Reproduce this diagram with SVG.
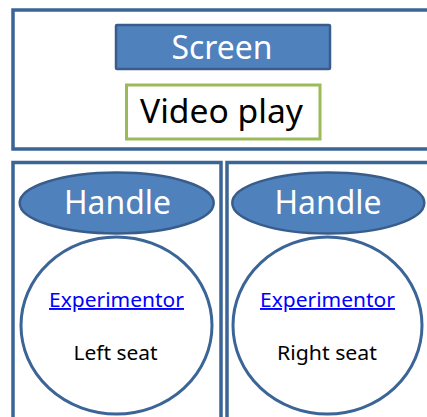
<svg xmlns="http://www.w3.org/2000/svg" width="427" height="417" viewBox="0 0 427 417">
<style>
.frame{fill:#fff;stroke:#3b6597;stroke-width:3.5}
.blue{fill:#4f81bd;stroke:#385d8a;stroke-width:2.5}
.seat{fill:#fff;stroke:#3b6597;stroke-width:3}
.big{font-family:"Noto Sans","Open Sans",sans-serif;font-size:32px;text-anchor:middle}
.small{font-family:"Noto Sans","Open Sans",sans-serif;font-size:19px;text-anchor:middle}
.w{fill:#fff}
.k{fill:#000}
.link{fill:#0000ff;text-decoration:underline}
</style>
<rect width="427" height="417" fill="#fff"/>
<g id="top-panel">
<rect class="frame" x="13" y="10" width="430" height="139"/>
</g>
<g id="screen">
<rect class="blue" x="116" y="25" width="214" height="44" rx="1"/>
<text class="big w" x="222" y="59" textLength="101" lengthAdjust="spacingAndGlyphs">Screen</text>
</g>
<g id="video-play">
<rect x="126.5" y="85" width="193.5" height="54" fill="#fff" stroke="#9bbb59" stroke-width="3"/>
<text class="big k" x="221.5" y="123" font-size="34" textLength="163" lengthAdjust="spacingAndGlyphs">Video play</text>
</g>
<g id="left-panel">
<rect class="frame" x="13" y="162.5" width="208" height="270"/>
</g>
<g id="right-panel">
<rect class="frame" x="227" y="162.5" width="220" height="270"/>
</g>
<g id="left-handle">
<ellipse class="blue" cx="116.7" cy="203" rx="97" ry="30.5"/>
<text class="big w" x="117.5" y="214" textLength="107" lengthAdjust="spacingAndGlyphs">Handle</text>
</g>
<g id="right-handle">
<ellipse class="blue" cx="328.3" cy="203" rx="96" ry="30.5"/>
<text class="big w" x="328" y="214" textLength="107" lengthAdjust="spacingAndGlyphs">Handle</text>
</g>
<g id="left-seat">
<ellipse class="seat" cx="116.5" cy="325.5" rx="95.5" ry="88.5"/>
<text class="small link" x="116.5" y="307" textLength="135" lengthAdjust="spacingAndGlyphs">Experimentor</text>
<text class="small k" x="115.5" y="360" font-size="20" textLength="84" lengthAdjust="spacingAndGlyphs">Left seat</text>
</g>
<g id="right-seat">
<ellipse class="seat" cx="327.5" cy="325.5" rx="94.5" ry="88.5"/>
<text class="small link" x="327.5" y="307" textLength="135" lengthAdjust="spacingAndGlyphs">Experimentor</text>
<text class="small k" x="327" y="360" font-size="20" textLength="100" lengthAdjust="spacingAndGlyphs">Right seat</text>
</g>
<g id="connectors"></g>
</svg>
